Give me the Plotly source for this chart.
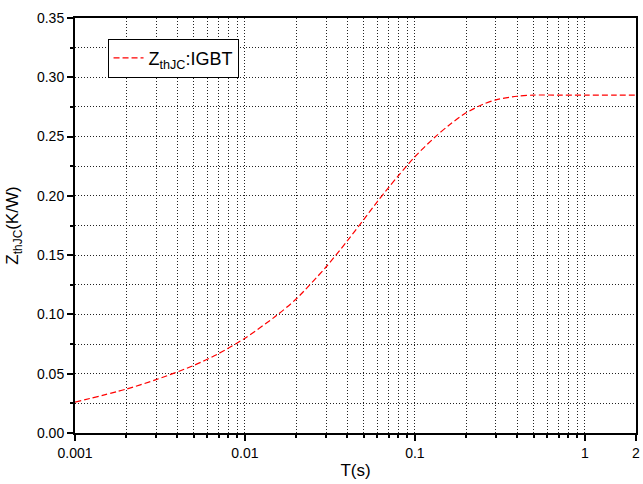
import numpy as np
import plotly.graph_objects as go

t_s = [0.001, 0.002, 0.003, 0.005, 0.007, 0.01, 0.015, 0.02, 0.03, 0.04, 0.05,
       0.06, 0.07, 0.08, 0.1, 0.13, 0.16, 0.2, 0.25, 0.3, 0.4, 0.5, 0.7, 1.0, 1.5, 2.0]
zth = [0.026, 0.037, 0.045, 0.057, 0.067, 0.080, 0.098, 0.113, 0.140, 0.162, 0.180,
       0.195, 0.207, 0.217, 0.233, 0.249, 0.260, 0.270, 0.277, 0.281, 0.284, 0.285,
       0.285, 0.285, 0.285, 0.285]

x_ticks = [0.001, 0.01, 0.1, 1, 2]
x_ticktext = ["0.001", "0.01", "0.1", "1", "2"]
x_minor = [k * 10.0 ** n for n in (-3, -2, -1) for k in range(2, 10)]
y_ticks = [0.0, 0.05, 0.10, 0.15, 0.20, 0.25, 0.30, 0.35]
y_minor = [0.025, 0.075, 0.125, 0.175, 0.225, 0.275, 0.325]

GRID = "#222"
DOT = "1px,2px"

fig = go.Figure()
fig.add_trace(go.Scatter(
    x=t_s, y=zth, mode="lines", name="Z<sub>thJC</sub>:IGBT",
    line=dict(color="#ff0000", width=1.2, dash="6px,3px", shape="spline", smoothing=0.8),
))

font = dict(family="Liberation Sans, Arial, sans-serif", size=14, color="#000")
fig.update_layout(
    width=643, height=484,
    margin=dict(l=75, r=3, t=18, b=51),
    paper_bgcolor="white", plot_bgcolor="white",
    font=font,
    showlegend=True,
    legend=dict(x=0.058, y=0.95, xanchor="left", yanchor="top",
                bordercolor="#000", borderwidth=1, bgcolor="white",
                font=dict(family="Liberation Sans, Arial, sans-serif", size=18),
                tracegroupgap=0),
)
fig.update_xaxes(
    type="log", range=[np.log10(0.001), np.log10(2)],
    tickmode="array", tickvals=x_ticks, ticktext=x_ticktext,
    ticks="outside", ticklen=6, tickwidth=1.5, tickcolor="#000",
    showline=True, linecolor="#000", linewidth=2, mirror=True,
    showgrid=True, gridcolor=GRID, griddash=DOT, gridwidth=1,
    minor=dict(tickmode="array", tickvals=x_minor, showgrid=True,
               gridcolor=GRID, griddash=DOT, gridwidth=1,
               ticks="outside", ticklen=3, tickcolor="#000"),
    zeroline=False,
    title=dict(text="T(s)", font=dict(size=17), standoff=4),
    tickfont=dict(size=14),
)
fig.update_yaxes(
    range=[0, 0.35],
    tickmode="array", tickvals=y_ticks, tickformat=".2f",
    ticks="outside", ticklen=6, tickwidth=1.5, tickcolor="#000",
    showline=True, linecolor="#000", linewidth=2, mirror=True,
    showgrid=True, gridcolor=GRID, griddash=DOT, gridwidth=1,
    minor=dict(tickmode="array", tickvals=y_minor, showgrid=True,
               gridcolor=GRID, griddash=DOT, gridwidth=1,
               ticks="outside", ticklen=3, tickcolor="#000"),
    zeroline=False,
    title=dict(text="Z<sub>thJC</sub>(K/W)", font=dict(size=17), standoff=14),
    tickfont=dict(size=14),
)
fig.write_html("out.html")
